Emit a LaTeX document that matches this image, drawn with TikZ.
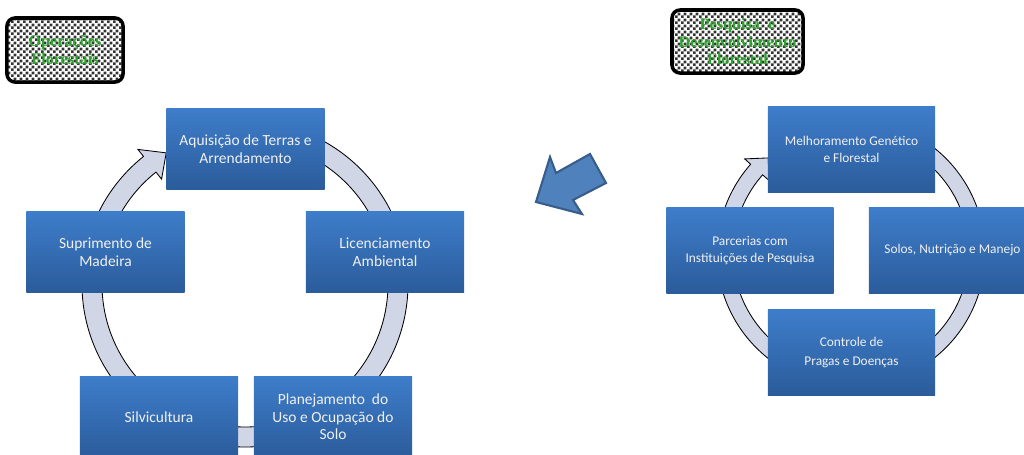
\documentclass[tikz,border=0pt]{standalone}
\usepackage{fontspec}
\setmainfont{Carlito}
\newfontfamily\titlefont{Liberation Serif}
\usetikzlibrary{patterns.meta}
\definecolor{boxtop}{RGB}{62,125,202}
\definecolor{boxbottom}{RGB}{43,92,155}
\definecolor{ringfill}{RGB}{208,214,230}
\definecolor{arrowfill}{RGB}{79,129,189}
\definecolor{arrowline}{RGB}{56,93,138}
\definecolor{titlegreen}{RGB}{50,160,50}
\tikzdeclarepattern{
	name=finechecker,
	type=uncolored,
	bottom left={(0pt,0pt)},
	top right={(4pt,4pt)},
	tile size={(4pt,4pt)},
	code={\fill (0pt,0pt) rectangle (2pt,2pt); \fill (2pt,2pt) rectangle (4pt,4pt);}
}
\tikzset{
	boxstyle/.style={rectangle,top color=boxtop,bottom color=boxbottom,text=white!94!black,align=center,minimum width=3.95cm,minimum height=2cm,inner sep=0pt,font=\fontsize{11}{12.5}\selectfont},
	smallboxstyle/.style={boxstyle,minimum width=4.175cm,minimum height=2.125cm,font=\fontsize{9.5}{12}\selectfont},
	ringstyle/.style={draw=black,fill=ringfill,line width=0.6pt},
	titlestyle/.style={rectangle,rounded corners=0.2cm,draw=black,line width=2.5pt,pattern=finechecker,pattern color=black!80,text=titlegreen,align=center,inner sep=0pt,font=\titlefont\bfseries\fontsize{11.5}{12.5}\selectfont}
}

\begin{document}
\begin{tikzpicture}[x=0.025cm,y=0.025cm]
	\useasboundingbox (0,0) rectangle (1024,-454);
	\clip (0,0) rectangle (1024,-454);
	% cycle rings
	\coordinate (lc) at (245,-284);
	\coordinate (rc) at (851,-253);
	\draw[ringstyle] ([shift={(85:163)}]lc) arc[start angle=85,end angle=-231.5,radius=163]
		-- ([shift={(128.5:172)}]lc) -- ([shift={(121:153)}]lc) -- ([shift={(128.5:134)}]lc)
		-- ([shift={(128.5:143)}]lc) arc[start angle=128.5,end angle=445,radius=143] -- cycle;
	\draw[ringstyle] ([shift={(80:134)}]rc) arc[start angle=80,end angle=-221.5,radius=134]
		-- ([shift={(138.5:142)}]rc) -- ([shift={(131:126)}]rc) -- ([shift={(138.5:110)}]rc)
		-- ([shift={(138.5:118)}]rc) arc[start angle=138.5,end angle=440,radius=118] -- cycle;
	% left cycle
	\node[boxstyle] (acq) at (245.5,-149) {Aquisição de Terras e\\Arrendamento};
	\node[boxstyle] (lic) at (385,-252) {Licenciamento\\Ambiental};
	\node[boxstyle] (plan) at (333,-417) {Planejamento\ \ do\\Uso e Ocupação do\\Solo};
	\node[boxstyle] (silv) at (159,-417) {Silvicultura};
	\node[boxstyle] (sup) at (105.5,-252) {Suprimento de\\Madeira};
	% right cycle
	\node[smallboxstyle] (mel) at (851.5,-149.5) {Melhoramento Genético\\e Florestal};
	\node[smallboxstyle] (sol) at (952.5,-250.5) {Solos, Nutrição e Manejo};
	\node[smallboxstyle] (par) at (750,-250.5) {Parcerias com\\Instituições de Pesquisa};
	\node[smallboxstyle] (con) at (851.5,-352.5) {Controle de\\[2pt]Pragas e Doenças};
	% titles
	\node[titlestyle,minimum width=2.9cm,minimum height=1.6cm] (ops) at (65,-50) {Operações\\Florestais};
	\node[titlestyle,minimum width=3.275cm,minimum height=1.575cm] (pd) at (737.5,-41.5) {Pesquisa\ \ e\\Desenvolvimento\\Florestal};
	% big arrow
	\draw[draw=arrowline,fill=arrowfill,line width=1.5pt] (536,-202) -- (550,-157) -- (556,-173) -- (590,-154) -- (606,-183) -- (573,-200) -- (582,-214) -- cycle;
\end{tikzpicture}
\end{document}
